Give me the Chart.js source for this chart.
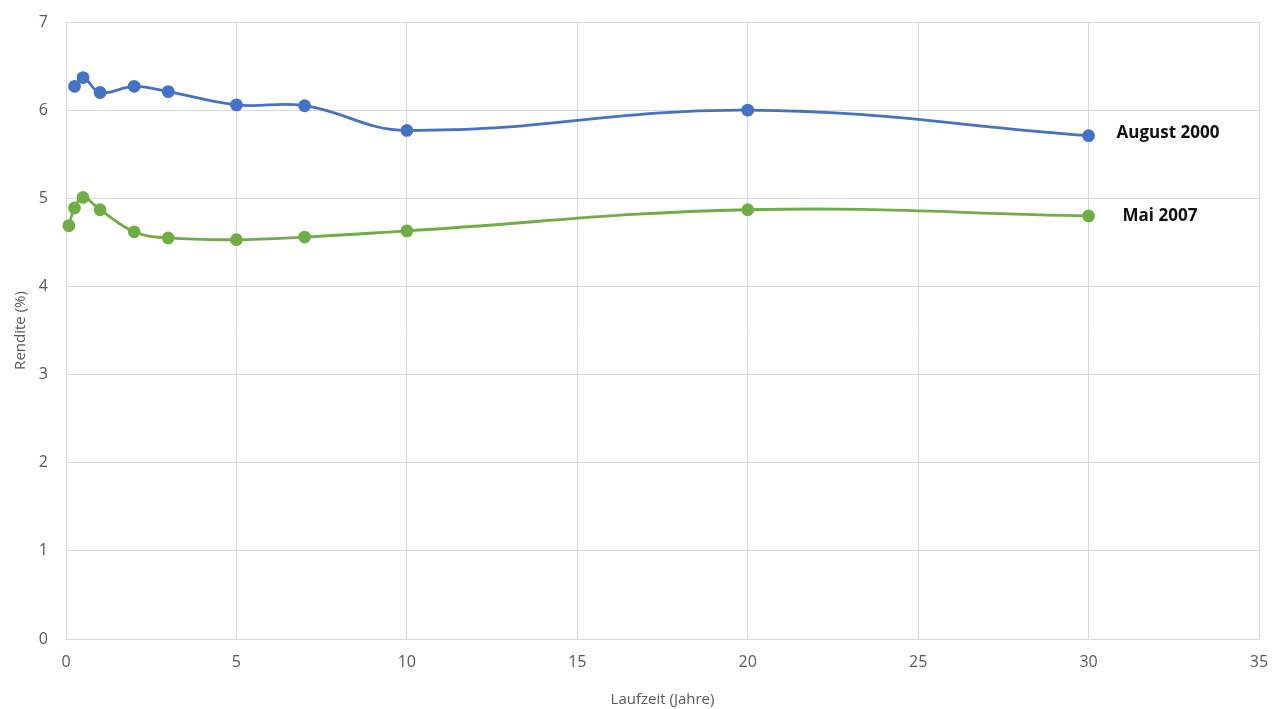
<!DOCTYPE html>
<html>
<head>
<meta charset="utf-8">
<script src="https://cdn.jsdelivr.net/npm/chart.js@4"></script>
<style>
  html, body { margin: 0; padding: 0; background: #ffffff; }
  #wrap { width: 1281px; height: 709px; }
</style>
</head>
<body>
<div id="wrap"><canvas id="canvas" width="1281" height="709"></canvas></div>
<script>
// Laufzeit in Jahren
const laufzeitAug2000 = [0.25, 0.5, 1, 2, 3, 5, 7, 10, 20, 30];
const renditeAug2000 = [6.27, 6.37, 6.20, 6.27, 6.21, 6.06, 6.05, 5.77, 6.00, 5.71];

const laufzeitMai2007 = [0.083, 0.25, 0.5, 1, 2, 3, 5, 7, 10, 20, 30];
const renditeMai2007 = [4.69, 4.89, 5.01, 4.87, 4.62, 4.55, 4.53, 4.56, 4.63, 4.87, 4.80];

const seriesNames = ["August 2000", "Mai 2007"];
const xTicks = [0, 5, 10, 15, 20, 25, 30, 35];
const yTicks = [0, 1, 2, 3, 4, 5, 6, 7];

const toPoints = (xs, ys) => xs.map((x, i) => ({ x: x, y: ys[i] }));

const gray = "#595959";
const tickFont = { family: "'Open Sans', sans-serif", size: 16 };
const titleFont = { family: "'Open Sans', sans-serif", size: 15 };

// draws the series names next to the last point of each line
const endLabels = {
    id: "endLabels",
    afterDatasetsDraw(chart) {
        const ctx = chart.ctx;
        const xs = chart.scales.x;
        const ys = chart.scales.y;
        const offsets = [[28, -3], [34, 0]];
        ctx.save();
        ctx.font = "bold 17px 'Open Sans', sans-serif";
        ctx.fillStyle = "#111111";
        ctx.textBaseline = "middle";
        chart.data.datasets.forEach((ds, i) => {
            const last = ds.data[ds.data.length - 1];
            ctx.fillText(ds.label, xs.getPixelForValue(last.x) + offsets[i][0], ys.getPixelForValue(last.y) + offsets[i][1]);
        });
        ctx.restore();
    }
};

const context = document.getElementById("canvas").getContext("2d");
const yieldChart = new Chart(context, {
    type: "line",
    data: {
        datasets: [
            {
                label: seriesNames[0],
                data: toPoints(laufzeitAug2000, renditeAug2000),
                borderColor: "#4472c4",
                backgroundColor: "#4472c4",
                borderWidth: 2.8,
                pointRadius: 5,
                pointHoverRadius: 5,
                tension: 0.4,
                clip: false
            },
            {
                label: seriesNames[1],
                data: toPoints(laufzeitMai2007, renditeMai2007),
                borderColor: "#70ad47",
                backgroundColor: "#70ad47",
                borderWidth: 2.8,
                pointRadius: 5,
                pointHoverRadius: 5,
                tension: 0.4,
                clip: false
            }
        ]
    },
    options: {
        responsive: false,
        animation: false,
        layout: { padding: { top: 22, right: 22, left: 0, bottom: 0 } },
        plugins: {
            legend: { display: false },
            tooltip: { enabled: false }
        },
        scales: {
            x: {
                type: "linear",
                min: 0,
                max: 35,
                afterBuildTicks: (axis) => { axis.ticks = xTicks.map(v => ({ value: v })); },
                afterFit: (axis) => {
                    axis.height = 70;
                    axis.paddingLeft = 0;
                    axis.paddingRight = 0;
                },
                ticks: { color: gray, font: tickFont, padding: 14 },
                grid: { color: "#d9d9d9", drawTicks: false },
                border: { color: "#d9d9d9" },
                title: {
                    display: true,
                    text: "Laufzeit (Jahre)",
                    color: gray,
                    font: titleFont,
                    padding: { top: 0, bottom: 0 }
                }
            },
            y: {
                min: 0,
                max: 7,
                afterBuildTicks: (axis) => { axis.ticks = yTicks.map(v => ({ value: v })); },
                afterFit: (axis) => {
                    axis.width = 66;
                    axis.paddingTop = 0;
                    axis.paddingBottom = 0;
                },
                ticks: { color: gray, font: tickFont, padding: 18 },
                grid: { color: "#d9d9d9", drawTicks: false },
                border: { color: "#d9d9d9" },
                title: {
                    display: true,
                    text: "Rendite (%)",
                    color: gray,
                    font: titleFont,
                    padding: { top: 12, bottom: 0 }
                }
            }
        }
    },
    plugins: [endLabels]
});
</script>
</body>
</html>
